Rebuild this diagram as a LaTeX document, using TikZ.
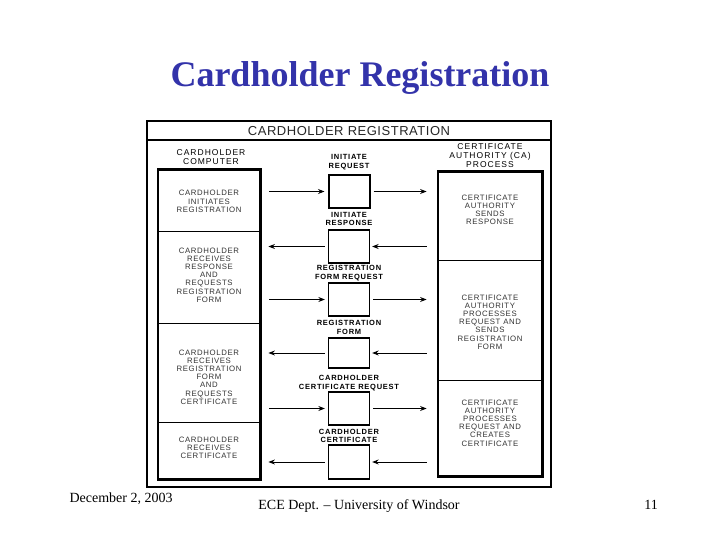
\documentclass[tikz,border=0pt]{standalone}
\usepackage{fontspec}
\setmainfont{Liberation Serif}
\newfontfamily\diafont[LetterSpace=8]{Liberation Sans}
\newfontfamily\colfont[LetterSpace=12]{Liberation Sans}
\newfontfamily\midfont[LetterSpace=10]{Liberation Sans}
\newfontfamily\headfont[LetterSpace=4]{Liberation Sans}
\usetikzlibrary{arrows.meta}
\definecolor{titleblue}{RGB}{51,51,170}
\begin{document}
\begin{tikzpicture}[x=1pt,y=-1pt,
  lbl/.style={font=\diafont\fontsize{7.8}{8.2}\selectfont, align=center, text=black!80, inner sep=0pt},
  mlbl/.style={font=\midfont\bfseries\fontsize{7.5}{8.4}\selectfont, align=center, inner sep=0pt},
  hlbl/.style={font=\colfont\fontsize{8.5}{9}\selectfont, align=center, inner sep=0pt},
  seg/.style={draw, line width=0.8pt, inner sep=0pt},
  mbox/.style={draw, line width=1.3pt, minimum width=41pt, minimum height=33pt, inner sep=0pt},
  arr/.style={line width=1pt, -{Stealth[length=6.5pt,width=5pt]}},
]
\useasboundingbox (0,0) rectangle (720,540);

% slide title and footer
\node[anchor=base, font=\bfseries\fontsize{36}{40}\selectfont, text=titleblue] (title) at (360,87) {Cardholder Registration};
\node[anchor=base west, font=\fontsize{14}{16}\selectfont] (date) at (66,502) {December 2, 2003};
\node[anchor=base, font=\fontsize{14}{16}\selectfont] (dept) at (359,509) {ECE Dept. -- University of Windsor};
\node[anchor=base, font=\fontsize{14}{16}\selectfont] (page) at (651,509) {11};

% outer frame
\node[draw, line width=2pt, minimum width=404pt, minimum height=366pt, inner sep=0pt] (frame) at (349,304) {};
\coordinate (tb) at (0,140);
\draw[line width=1.5pt] (frame.west |- tb) -- (frame.east |- tb);
\node[font=\headfont\fontsize{13}{14}\selectfont, text=black!85] (head) at (349,131) {CARDHOLDER REGISTRATION};

% column headers
\node[hlbl] (hl) at (211,157.5) {CARDHOLDER\\COMPUTER};
\node[hlbl] (hr) at (490,156) {CERTIFICATE\\AUTHORITY (CA)\\PROCESS};

% left column
\node[seg, minimum width=102pt, minimum height=61pt] (L1) at (209,200.5) {};
\node[seg, minimum width=102pt, minimum height=92pt] (L2) at (209,277) {};
\node[seg, minimum width=102pt, minimum height=99pt] (L3) at (209,372.5) {};
\node[seg, minimum width=102pt, minimum height=57pt] (L4) at (209,450.5) {};
\draw[line width=2.2pt] (L1.north west) rectangle (L4.south east);
\node[lbl] (tL1) at (209,201.5) {CARDHOLDER\\INITIATES\\REGISTRATION};
\node[lbl] (tL2) at (209,275) {CARDHOLDER\\RECEIVES\\RESPONSE\\AND\\REQUESTS\\REGISTRATION\\FORM};
\node[lbl] (tL3) at (209,377) {CARDHOLDER\\RECEIVES\\REGISTRATION\\FORM\\AND\\REQUESTS\\CERTIFICATE};
\node[lbl] (tL4) at (209,448) {CARDHOLDER\\RECEIVES\\CERTIFICATE};

% right column
\node[seg, minimum width=104pt, minimum height=88pt] (R1) at (490,216) {};
\node[seg, minimum width=104pt, minimum height=120pt] (R2) at (490,320) {};
\node[seg, minimum width=104pt, minimum height=96pt] (R3) at (490,428) {};
\draw[line width=2.2pt] (R1.north west) rectangle (R3.south east);
\node[lbl] (tR1) at (490,210) {CERTIFICATE\\AUTHORITY\\SENDS\\RESPONSE};
\node[lbl] (tR2) at (490,322) {CERTIFICATE\\AUTHORITY\\PROCESSES\\REQUEST AND\\SENDS\\REGISTRATION\\FORM};
\node[lbl] (tR3) at (490,423) {CERTIFICATE\\AUTHORITY\\PROCESSES\\REQUEST AND\\CREATES\\CERTIFICATE};

% middle message boxes
\node[mbox, line width=2pt] (b1) at (349,191.5) {};
\node[mbox] (b2) at (349,246.5) {};
\node[mbox] (b3) at (349,299.5) {};
\node[mbox, minimum height=30pt] (b4) at (349,353) {};
\node[mbox] (b5) at (349,408.5) {};
\node[mbox, minimum height=34pt] (b6) at (349,462) {};

\node[mlbl] (t1) at (349,162) {INITIATE\\REQUEST};
\node[mlbl] (t2) at (349,219) {INITIATE\\RESPONSE};
\node[mlbl] (t3) at (349,273) {REGISTRATION\\FORM REQUEST};
\node[mlbl] (t4) at (349,327.5) {REGISTRATION\\FORM};
\node[mlbl] (t5) at (349,383) {CARDHOLDER\\CERTIFICATE REQUEST};
\node[mlbl] (t6) at (349,436) {CARDHOLDER\\CERTIFICATE};

% arrows
\draw[arr, shorten <=9pt, shorten >=3pt] (L1.east |- b1.west) -- (b1.west);
\draw[arr, shorten <=3pt, shorten >=11pt] (b1.east) -- (R1.west |- b1.east);
\draw[arr, shorten <=11pt, shorten >=2pt] (R1.west |- b2.east) -- (b2.east);
\draw[arr, shorten <=3pt, shorten >=8pt] (b2.west) -- (L1.east |- b2.west);
\draw[arr, shorten <=9pt, shorten >=3pt] (L1.east |- b3.west) -- (b3.west);
\draw[arr, shorten <=3pt, shorten >=11pt] (b3.east) -- (R1.west |- b3.east);
\draw[arr, shorten <=11pt, shorten >=2pt] (R1.west |- b4.east) -- (b4.east);
\draw[arr, shorten <=3pt, shorten >=8pt] (b4.west) -- (L1.east |- b4.west);
\draw[arr, shorten <=9pt, shorten >=3pt] (L1.east |- b5.west) -- (b5.west);
\draw[arr, shorten <=3pt, shorten >=11pt] (b5.east) -- (R1.west |- b5.east);
\draw[arr, shorten <=11pt, shorten >=2pt] (R1.west |- b6.east) -- (b6.east);
\draw[arr, shorten <=3pt, shorten >=8pt] (b6.west) -- (L1.east |- b6.west);
\end{tikzpicture}
\end{document}
